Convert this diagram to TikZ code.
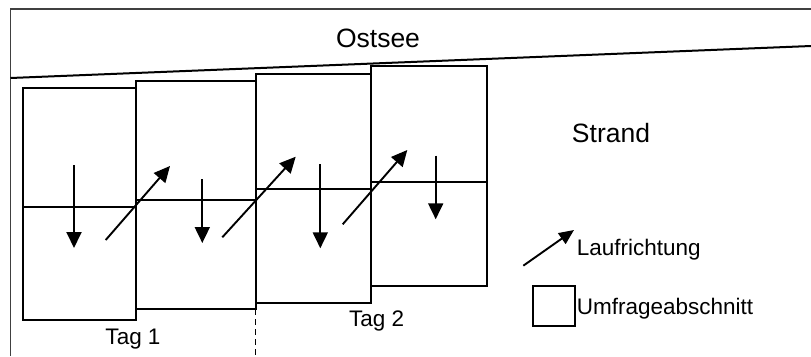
\documentclass[tikz,border=0pt]{standalone}
\usepackage{fontspec}
\setmainfont{Liberation Sans}
\usetikzlibrary{arrows.meta}
\begin{document}
\begin{tikzpicture}[x=1pt,y=-1pt,
  sect/.style={draw,line width=2pt,inner sep=0pt,outer sep=0pt,anchor=north west},
  midline/.style={line width=1.9pt},
  walk/.style={line width=1.9pt,-{Triangle[length=16pt,width=15pt]}},
  big/.style={font=\fontsize{26.5}{30}\selectfont,inner sep=0pt},
  small/.style={font=\fontsize{22.5}{26}\selectfont,inner sep=0pt}]
\useasboundingbox (0,0) rectangle (811,356);
% frame
\draw[line width=1.1pt,black!75] (10.5,356) -- (10.5,9) -- (811,9);
% shore line
\coordinate (shoreL) at (10.5,78);
\coordinate (shoreR) at (811,46);
\draw[line width=2pt] (shoreL) -- (shoreR);
\node[big] (ostsee) at (378,38) {Ostsee};
\node[big] (strand) at (611,133) {Strand};
% sections
\node[sect,minimum width=113pt,minimum height=232.3pt] (b1) at (23.3,87.7) {};
\node[sect,minimum width=119.4pt,minimum height=228.6pt] (b2) at (136.3,80.7) {};
\node[sect,minimum width=115pt,minimum height=229pt] (b3) at (255.7,74.3) {};
\node[sect,minimum width=116.3pt,minimum height=220.3pt] (b4) at (370.7,65.7) {};
\draw[midline] (b1.west |- 0,206.7) -- (b1.east |- 0,206.7);
\draw[midline] (b2.west |- 0,200) -- (b2.east |- 0,200);
\draw[midline] (b3.west |- 0,189) -- (b3.east |- 0,189);
\draw[midline] (b4.west |- 0,181.7) -- (b4.east |- 0,181.7);
% walking arrows
\coordinate (d1s) at (74,165);   \coordinate (d1e) at (74,248);
\coordinate (g1s) at (105.7,240); \coordinate (g1e) at (170,166);
\coordinate (d2s) at (202.3,179); \coordinate (d2e) at (202.3,243);
\coordinate (g2s) at (222.3,237.3); \coordinate (g2e) at (295.7,156.7);
\coordinate (d3s) at (320.3,164.3); \coordinate (d3e) at (320.3,248.3);
\coordinate (g3s) at (342.7,224.3); \coordinate (g3e) at (407.3,150);
\coordinate (d4s) at (435.7,155.7); \coordinate (d4e) at (435.7,219.3);
\draw[walk] (d1s) -- (d1e);
\draw[walk] (g1s) -- (g1e);
\draw[walk] (d2s) -- (d2e);
\draw[walk] (g2s) -- (g2e);
\draw[walk] (d3s) -- (d3e);
\draw[walk] (g3s) -- (g3e);
\draw[walk] (d4s) -- (d4e);
% day separator
\coordinate (sepEnd) at (255.7,356);
\draw[line width=1.5pt,dash pattern=on 6pt off 4pt] (b2.south east) -- (sepEnd);
\node[small] (tag1) at (133,339) {Tag 1};
\node[small] (tag2) at (376.7,321) {Tag 2};
% legend
\coordinate (legS) at (523.3,265.7);
\coordinate (legE) at (574,230);
\draw[line width=1.9pt,-{Triangle[length=15pt,width=13pt]}] (legS) -- (legE);
\node[small,anchor=west] (lauf) at (576.7,250) {Laufrichtung};
\node[sect,minimum width=41.4pt,minimum height=40pt] (legbox) at (533.3,286) {};
\node[small,anchor=west] (umf) at (576.7,309) {Umfrageabschnitt};
\end{tikzpicture}
\end{document}
